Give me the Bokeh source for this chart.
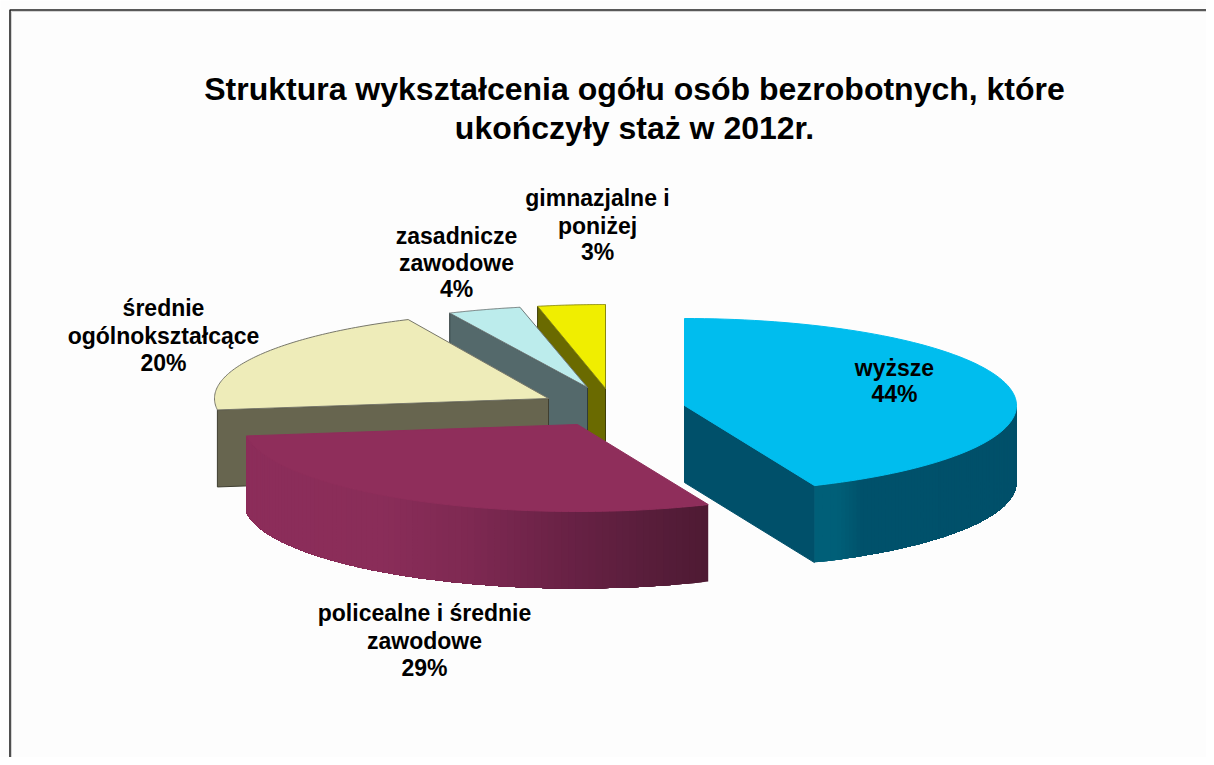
import math
from bokeh.plotting import figure
from bokeh.models import Range1d
from bokeh.core.properties import value
from bokeh.embed import file_html
from bokeh.resources import INLINE

# ---- data ----
title_lines = ["Struktura wykształcenia ogółu osób bezrobotnych, które", "ukończyły staż w 2012r."]
categories = ["wyższe", "policealne i średnie zawodowe", "średnie ogólnokształcące", "zasadnicze zawodowe", "gimnazjalne i poniżej"]
shares = [43.6, 29.3, 20.2, 3.6, 3.3]
percent_labels = ["44%", "29%", "20%", "4%", "3%"]
label_lines = [["wyższe"], ["policealne i średnie", "zawodowe"], ["średnie", "ogólnokształcące"], ["zasadnicze", "zawodowe"], ["gimnazjalne i", "poniżej"]]

# ---- layout / style ----
W, H = 1206, 757
START = 90.0
DEPTH = 77
centers = [(684, 405), (577, 424), (548, 398), (587, 387), (605, 388)]
radii = [(332, 87), (334, 87), (334, 87), (328, 82), (330, 84)]
top_colors = ["#00bdee", "#8f2e5b", "#eeecb9", "#bcecec", "#f0ee00"]
wall_colors = ["#00506a", "#8c2d5a", "#67654f", "#54696b", "#6a6a00"]
label_pos = [(894, [367, 393]), (424, [612, 640, 667]), (163, [307, 335, 362]), (456, [235, 262, 288]), (597, [197, 225, 251])]
FONT = value("Liberation Sans")

blue_grad = [(814, "#005f78"), (838, "#005f78"), (862, "#00516b"), (1016, "#00506a")]
maroon_grad = [(246, "#8c2d5a"), (380, "#8a2d59"), (470, "#7e2952"), (560, "#6a2246"), (640, "#5a1e3c"), (707, "#4e1a33")]


def hex_rgb(c):
    return tuple(int(c[i:i + 2], 16) for i in (1, 3, 5))


def grad_color(stops, x):
    if x <= stops[0][0]:
        return stops[0][1]
    for (x0, c0), (x1, c1) in zip(stops, stops[1:]):
        if x <= x1:
            f = (x - x0) / (x1 - x0)
            a, b = hex_rgb(c0), hex_rgb(c1)
            return "#%02x%02x%02x" % tuple(round(a[i] + (b[i] - a[i]) * f) for i in range(3))
    return stops[-1][1]


def rim(c, r, t):
    a = math.radians(t)
    return c[0] + r[0] * math.cos(a), c[1] - r[1] * math.sin(a)


# slice angles come from the shares
angles = []
cur = START
for s in shares:
    angles.append((cur, cur - s * 3.6))
    cur -= s * 3.6

p = figure(width=W, height=H, x_range=Range1d(0, W), y_range=Range1d(H, 0),
           toolbar_location=None, output_backend="svg", min_border=0,
           background_fill_color="#fdfdfd", border_fill_color="#fdfdfd")
p.axis.visible = False
p.grid.visible = False
p.outline_line_color = None


def wall_quad(a, b, color, edge=None):
    xs = [a[0], b[0], b[0], a[0]]
    ys = [a[1], b[1], b[1] + DEPTH, a[1] + DEPTH]
    p.patch(xs, ys, fill_color=color, line_color=edge or color, line_width=1)


def top(i, edge=None):
    c, r = centers[i], radii[i]
    a0, a1 = angles[i]
    n = 90
    pts = [rim(c, r, a0 + (a1 - a0) * k / n) for k in range(n + 1)]
    xs = [c[0]] + [q[0] for q in pts]
    ys = [c[1]] + [q[1] for q in pts]
    p.patch(xs, ys, fill_color=top_colors[i], line_color=edge or top_colors[i], line_width=1)


def curved_wall(i, t_from, t_to, stops):
    # painter's strips: each one runs from its own start to the far end of the
    # arc, so the next strip overlaps it and no seams show
    c, r = centers[i], radii[i]
    n = 90
    pts = [rim(c, r, t_from + (t_to - t_from) * k / n) for k in range(n + 1)]
    xs, ys, cols = [], [], []
    for k in range(n):
        arc = pts[k:]
        xs.append([q[0] for q in arc] + [q[0] for q in reversed(arc)])
        ys.append([q[1] for q in arc] + [q[1] + DEPTH for q in reversed(arc)])
        cols.append(grad_color(stops, (pts[k][0] + pts[k + 1][0]) / 2))
    p.patches(xs, ys, fill_color=cols, line_color=None)


# yellow
yi = 4
wall_quad(rim(centers[yi], radii[yi], angles[yi][0]), centers[yi], wall_colors[yi], "#3f3f08")
top(yi, "#8a8a10")
# light teal
ti = 3
wall_quad(rim(centers[ti], radii[ti], angles[ti][0]), centers[ti], wall_colors[ti], "#2f3a3b")
top(ti, "#6f7a7a")
# cream
ci = 2
wall_quad(rim(centers[ci], radii[ci], angles[ci][0]), centers[ci], wall_colors[ci], "#3f3e30")
top(ci, "#77776a")
# blue
bi = 0
wall_quad(centers[bi], rim(centers[bi], radii[bi], angles[bi][1]), wall_colors[bi])
curved_wall(bi, angles[bi][1], 0.0, blue_grad)
top(bi)
# maroon
mi = 1
curved_wall(mi, angles[mi][0], angles[mi][1], maroon_grad)
top(mi)

# frame (top and left reach the picture's edge)
p.line([W, 9.5, 9.5], [9.5, 9.5, H], line_color="#222222", line_width=1.6)
p.line([W, 11, 11], [11, 11, H], line_color="#d4d4d4", line_width=1)

# title
p.text([634, 634], [88, 127], text=title_lines, text_font=FONT, text_font_style="bold",
       text_font_size="32px", text_align="center", text_baseline="middle", text_color="#000000")

# labels
for i in range(len(categories)):
    x, ys = label_pos[i]
    lines = label_lines[i] + [percent_labels[i]]
    p.text([x] * len(lines), ys, text=lines, text_font=FONT, text_font_style="bold",
           text_font_size="23px", text_align="center", text_baseline="middle", text_color="#000000")

open("out.html", "w").write(file_html(p, INLINE))
